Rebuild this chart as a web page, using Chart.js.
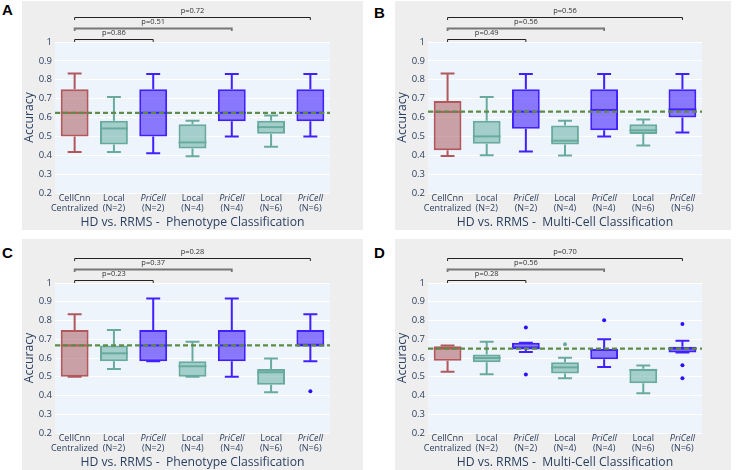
<!DOCTYPE html>
<html>
<head>
<meta charset="utf-8">
<script src="https://cdn.jsdelivr.net/npm/chart.js@4.4.1/dist/chart.umd.min.js"></script>
<style>
  html, body { margin: 0; padding: 0; background: #ffffff; }
  #wrap { position: relative; width: 736px; height: 470px; overflow: hidden; background: #ffffff; }
  canvas { position: absolute; background: #eeeeee; }
  .lbl { position: absolute; font-family: "Liberation Sans", Arial, sans-serif; font-weight: bold; font-size: 15px; line-height: 15px; color: #000; }
</style>
</head>
<body>
<div id="wrap">
  <canvas id="cA" width="341" height="229" style="left:22px;top:1px;"></canvas>
  <canvas id="cB" width="336" height="229" style="left:395px;top:1px;"></canvas>
  <canvas id="cC" width="341" height="231" style="left:22px;top:239px;"></canvas>
  <canvas id="cD" width="336" height="231" style="left:395px;top:239px;"></canvas>
  <div class="lbl" style="left:2px;top:2px;">A</div>
  <div class="lbl" style="left:374px;top:5px;">B</div>
  <div class="lbl" style="left:2px;top:245px;">C</div>
  <div class="lbl" style="left:374px;top:245px;">D</div>
</div>
<script>
// ---------- categories ----------
const labelLine1 = ["CellCnn", "Local", "PriCell", "Local", "PriCell", "Local", "PriCell"];
const labelLine2 = ["Centralized", "(N=2)", "(N=2)", "(N=4)", "(N=4)", "(N=6)", "(N=6)"];
const groupKind = ["central", "local", "pricell", "local", "pricell", "local", "pricell"];
const yTicks = [0.2, 0.3, 0.4, 0.5, 0.6, 0.7, 0.8, 0.9, 1];
const pTargets = [2, 4, 6];

// ---------- Panel A: HD vs RRMS - Phenotype ----------
const A_min = [0.417, 0.417, 0.410, 0.395, 0.500, 0.445, 0.500];
const A_q1  = [0.500, 0.457, 0.500, 0.436, 0.580, 0.514, 0.580];
const A_med = [0.625, 0.542, 0.625, 0.468, 0.625, 0.549, 0.625];
const A_q3  = [0.750, 0.583, 0.750, 0.564, 0.750, 0.583, 0.750];
const A_max = [0.833, 0.708, 0.830, 0.583, 0.830, 0.610, 0.830];
const A_out = [[], [], [], [], [], [], []];
const A_ref = 0.625;
const A_p = ["p=0.86", "p=0.51", "p=0.72"];

// ---------- Panel B: HD vs RRMS - Multi-Cell ----------
const B_min = [0.396, 0.400, 0.420, 0.399, 0.500, 0.452, 0.520];
const B_q1  = [0.427, 0.461, 0.540, 0.457, 0.532, 0.512, 0.600];
const B_med = [0.630, 0.500, 0.631, 0.477, 0.640, 0.532, 0.643];
const B_q3  = [0.688, 0.583, 0.750, 0.557, 0.750, 0.564, 0.750];
const B_max = [0.833, 0.708, 0.830, 0.583, 0.830, 0.590, 0.830];
const B_out = [[], [], [], [], [], [], []];
const B_ref = 0.631;
const B_p = ["p=0.49", "p=0.56", "p=0.56"];

// ---------- Panel C: HD vs RRMS - Phenotype ----------
const C_min = [0.500, 0.542, 0.583, 0.500, 0.500, 0.417, 0.583];
const C_q1  = [0.500, 0.583, 0.583, 0.500, 0.583, 0.458, 0.667];
const C_med = [0.667, 0.625, 0.667, 0.556, 0.667, 0.524, 0.667];
const C_q3  = [0.750, 0.667, 0.750, 0.583, 0.750, 0.542, 0.750];
const C_max = [0.833, 0.750, 0.917, 0.687, 0.917, 0.597, 0.833];
const C_out = [[], [], [], [], [], [], [0.423]];
const C_ref = 0.667;
const C_p = ["p=0.23", "p=0.37", "p=0.28"];

// ---------- Panel D: HD vs RRMS - Multi-Cell ----------
const D_min = [0.527, 0.513, 0.632, 0.492, 0.552, 0.412, 0.630];
const D_q1  = [0.586, 0.577, 0.652, 0.517, 0.593, 0.465, 0.630];
const D_med = [0.650, 0.600, 0.652, 0.550, 0.643, 0.536, 0.650];
const D_q3  = [0.663, 0.619, 0.682, 0.577, 0.648, 0.543, 0.660];
const D_max = [0.667, 0.687, 0.682, 0.602, 0.700, 0.560, 0.692];
const D_out = [[], [], [0.763, 0.512], [0.674], [0.802], [], [0.782, 0.561, 0.492]];
const D_ref = 0.650;
const D_p = ["p=0.28", "p=0.56", "p=0.70"];

// ---------- styles ----------
const FONT = "'Open Sans', sans-serif";
const TXT = "#2a3f5f";
const fillOf = { central: "rgba(165,75,82,0.5)", local: "rgba(90,168,155,0.5)", pricell: "rgba(45,5,255,0.52)" };
const lineOf = { central: "#b0585c", local: "#68ab9e", pricell: "#4020ff" };
const dotOf  = { central: "#b0585c", local: "#68ab9e", pricell: "#2a10ff" };

function boxPlugin(mins, meds, maxs, ref, pLabels) {
  return {
    id: "boxParts",
    beforeDraw(chart) {
      const a = chart.chartArea, c = chart.ctx;
      c.save();
      c.fillStyle = "#eef4fc";
      c.fillRect(a.left, a.top, a.right - a.left, a.bottom - a.top);
      c.restore();
    },
    beforeDatasetsDraw(chart) {
      const c = chart.ctx, y = chart.scales.y;
      const meta = chart.getDatasetMeta(0);
      c.save();
      meta.data.forEach((bar, i) => {
        const raw = chart.data.datasets[0].data[i];
        const half = bar.width / 4;
        c.strokeStyle = lineOf[groupKind[i]];
        c.lineWidth = 2;
        c.beginPath();
        c.moveTo(bar.x, y.getPixelForValue(maxs[i]));
        c.lineTo(bar.x, y.getPixelForValue(raw[1]));
        c.moveTo(bar.x, y.getPixelForValue(raw[0]));
        c.lineTo(bar.x, y.getPixelForValue(mins[i]));
        c.moveTo(bar.x - half, y.getPixelForValue(maxs[i]));
        c.lineTo(bar.x + half, y.getPixelForValue(maxs[i]));
        c.moveTo(bar.x - half, y.getPixelForValue(mins[i]));
        c.lineTo(bar.x + half, y.getPixelForValue(mins[i]));
        c.stroke();
      });
      c.restore();
    },
    afterDatasetsDraw(chart) {
      const c = chart.ctx, y = chart.scales.y, a = chart.chartArea;
      const meta = chart.getDatasetMeta(0);
      c.save();
      // medians
      meta.data.forEach((bar, i) => {
        const py = y.getPixelForValue(meds[i]);
        c.strokeStyle = lineOf[groupKind[i]];
        c.lineWidth = 2;
        c.beginPath();
        c.moveTo(bar.x - bar.width / 2, py);
        c.lineTo(bar.x + bar.width / 2, py);
        c.stroke();
      });
      // reference dashed line
      const ry = y.getPixelForValue(ref);
      c.strokeStyle = "#5e8c45";
      c.lineWidth = 2.2;
      c.setLineDash([5, 3]);
      c.beginPath();
      c.moveTo(a.left, ry);
      c.lineTo(a.right, ry);
      c.stroke();
      c.setLineDash([]);
      // significance brackets
      const x0 = meta.data[0].x;
      const offs = [2.5, 13.5, 24.5];
      const styles = [["#222", 1], ["#777", 1.8], ["#222", 1]];
      pTargets.forEach((t, j) => {
        const x1 = meta.data[t].x;
        const ly = a.top - offs[j];
        c.strokeStyle = styles[j][0];
        c.lineWidth = styles[j][1];
        c.beginPath();
        c.moveTo(x0, ly + 2.5);
        c.lineTo(x0, ly);
        c.lineTo(x1, ly);
        c.lineTo(x1, ly + 2.5);
        c.stroke();
        c.fillStyle = "#333";
        c.font = "7.5px " + FONT;
        c.textAlign = "center";
        c.textBaseline = "middle";
        c.fillText(pLabels[j], (x0 + x1) / 2, ly - 6.5);
      });
      c.restore();
    }
  };
}

function makeChart(id, mins, q1, meds, q3, maxs, outs, ref, pLabels, title, padTop, padRight) {
  const boxes = q1.map((v, i) => [v, q3[i]]);
  const nOut = Math.max(0, ...outs.map(o => o.length));
  const outSets = [];
  for (let k = 0; k < nOut; k++) {
    outSets.push({
      type: "line",
      data: outs.map(o => (o.length > k ? o[k] : null)),
      showLine: false,
      pointRadius: 2,
      pointHoverRadius: 2,
      pointBorderWidth: 0,
      pointBackgroundColor: groupKind.map(g => dotOf[g]),
      pointBorderColor: groupKind.map(g => dotOf[g])
    });
  }
  return new Chart(document.getElementById(id), {
    type: "bar",
    data: {
      labels: labelLine1,
      datasets: [{
        data: boxes,
        backgroundColor: groupKind.map(g => fillOf[g]),
        borderColor: groupKind.map(g => lineOf[g]),
        borderWidth: 2,
        borderSkipped: false,
        barPercentage: 0.71,
        categoryPercentage: 1
      }].concat(outSets)
    },
    options: {
      responsive: false,
      animation: false,
      events: [],
      layout: { padding: { top: padTop, right: padRight, left: 0, bottom: 0 } },
      plugins: { legend: { display: false }, tooltip: { enabled: false } },
      scales: {
        x: {
          type: "category",
          offset: true,
          grid: { display: false, drawTicks: false },
          border: { display: false },
          ticks: {
            autoSkip: false, maxRotation: 0, padding: 0.5, color: TXT,
            font: (ctx) => ({ family: FONT, size: 9, lineHeight: 1, style: groupKind[ctx.index] === "pricell" ? "italic" : "normal" })
          },
          afterFit: (s) => { s.height = 10; }
        },
        x2: {
          type: "category",
          labels: labelLine2,
          offset: true,
          position: "bottom",
          weight: 1,
          grid: { display: false, drawTicks: false },
          border: { display: false },
          ticks: { autoSkip: false, maxRotation: 0, padding: 0.5, color: TXT, font: { family: FONT, size: 9, lineHeight: 1 } },
          title: { display: true, text: title, color: TXT, font: { family: FONT, size: 12.2 }, padding: { top: 2, bottom: 0.5 } },
          afterFit: (s) => { s.height = 27; }
        },
        y: {
          min: 0.2, max: 1,
          afterBuildTicks: (s) => { s.ticks = yTicks.map(v => ({ value: v })); },
          ticks: { color: TXT, font: { family: FONT, size: 9.5 }, padding: 3, callback: (v) => String(+(+v).toFixed(1)) },
          grid: { color: "#ffffff", lineWidth: 1, drawTicks: false },
          border: { display: false },
          title: { display: true, text: "Accuracy", color: TXT, font: { family: FONT, size: 12.2 }, padding: { top: 0, bottom: 0 } },
          afterFit: (s) => { s.width = 33; }
        }
      }
    },
    plugins: [boxPlugin(mins, meds, maxs, ref, pLabels)]
  });
}

makeChart("cA", A_min, A_q1, A_med, A_q3, A_max, A_out, A_ref, A_p, "HD vs. RRMS -  Phenotype Classification", 41, 33);
makeChart("cB", B_min, B_q1, B_med, B_q3, B_max, B_out, B_ref, B_p, "HD vs. RRMS -  Multi-Cell Classification", 41, 29);
makeChart("cC", C_min, C_q1, C_med, C_q3, C_max, C_out, C_ref, C_p, "HD vs. RRMS -  Phenotype Classification", 44, 33);
makeChart("cD", D_min, D_q1, D_med, D_q3, D_max, D_out, D_ref, D_p, "HD vs. RRMS -  Multi-Cell Classification", 44, 29);
</script>
</body>
</html>
